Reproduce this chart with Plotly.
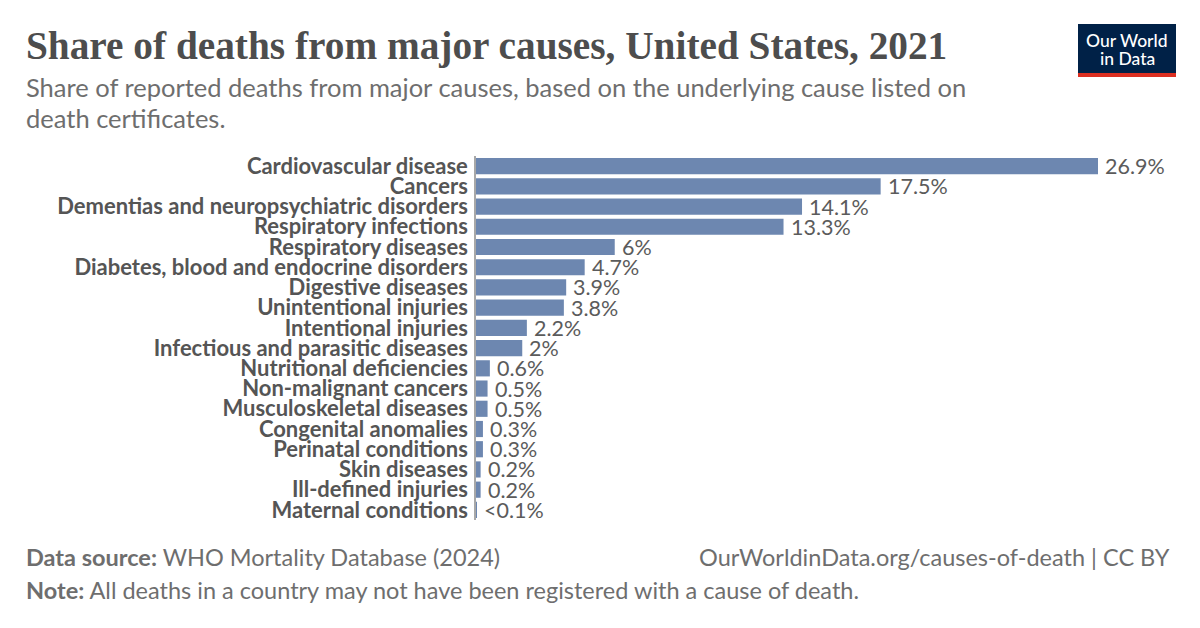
import plotly.graph_objects as go

categories = [
    "Cardiovascular disease", "Cancers", "Dementias and neuropsychiatric disorders",
    "Respiratory infections", "Respiratory diseases", "Diabetes, blood and endocrine disorders",
    "Digestive diseases", "Unintentional injuries", "Intentional injuries",
    "Infectious and parasitic diseases", "Nutritional deficiencies", "Non-malignant cancers",
    "Musculoskeletal diseases", "Congenital anomalies", "Perinatal conditions",
    "Skin diseases", "Ill-defined injuries", "Maternal conditions",
]
values = [26.9, 17.5, 14.1, 13.3, 6.0, 4.7, 3.9, 3.8, 2.2, 2.0, 0.6, 0.5, 0.5, 0.3, 0.3, 0.2, 0.2, 0.03]
value_labels = ["26.9%", "17.5%", "14.1%", "13.3%", "6%", "4.7%", "3.9%", "3.8%", "2.2%", "2%",
                "0.6%", "0.5%", "0.5%", "0.3%", "0.3%", "0.2%", "0.2%", "<0.1%"]

BAR = "#6d87b0"
GREY = "#6e6e6e"
LABEL = "#555555"
W, H = 1200, 628
L, R, T, B = 476, 24, 156, 108
px_per_unit = (1098 - 476) / 26.9
xmax = (W - L - R) / px_per_unit

fig = go.Figure()
fig.add_trace(go.Bar(
    x=values, y=categories, orientation="h",
    marker=dict(color=BAR, line=dict(width=0)),
    hoverinfo="skip",
))

for v, c, t in zip(values, categories, value_labels):
    fig.add_annotation(x=v, y=c, xref="x", yref="y", text=t, showarrow=False,
                       xanchor="left", yanchor="middle", xshift=5,
                       font=dict(family="Lato", size=21.5, color="#5b5b5b"))

fig.update_layout(
    width=W, height=H, margin=dict(l=L, r=R, t=T, b=B),
    paper_bgcolor="white", plot_bgcolor="white",
    bargap=0.2, showlegend=False,
    font=dict(family="Lato", color=GREY),
    xaxis=dict(range=[0, xmax], visible=False, fixedrange=True),
    yaxis=dict(
        range=[len(categories) - 0.5, -0.5], autorange=False,
        showgrid=False, zeroline=False,
        showline=True, linecolor="#a8a8a8", linewidth=1.5,
        ticks="", ticklabelstandoff=2,
        tickmode="array", tickvals=categories, ticktext=categories,
        tickfont=dict(family="Lato", size=22, color=LABEL, weight="bold"),
        fixedrange=True,
    ),
)

annotations = [
    dict(text="<b>Share of deaths from major causes, United States, 2021</b>",
         x=24, y=46, font=dict(family="Liberation Serif", size=39.3, color="#4d4d4d")),
    dict(text="Share of reported deaths from major causes, based on the underlying cause listed on",
         x=24, y=87, font=dict(family="Lato", size=25.5, color=GREY)),
    dict(text="death certificates.",
         x=24, y=118, font=dict(family="Lato", size=25.5, color=GREY)),
    dict(text="<b>Data source:</b> WHO Mortality Database (2024)",
         x=24, y=557, font=dict(family="Lato", size=23.5, color=GREY)),
    dict(text="<b>Note:</b> All deaths in a country may not have been registered with a cause of death.",
         x=24, y=590, font=dict(family="Lato", size=23.5, color=GREY)),
]


def px_x(v):
    return (v - L) / (W - L - R)


def px_y(v):
    return (H - v - B) / (H - T - B)


for a in annotations:
    fig.add_annotation(xref="paper", yref="paper", xanchor="left", yanchor="middle",
                       showarrow=False, text=a["text"], font=a["font"],
                       x=px_x(a["x"]), y=px_y(a["y"]))

fig.add_annotation(xref="paper", yref="paper", xanchor="right", yanchor="middle",
                   showarrow=False, text="OurWorldinData.org/causes-of-death | CC BY",
                   font=dict(family="Lato", size=23.5, color=GREY),
                   x=px_x(1172), y=px_y(557))

# Logo
fig.add_shape(type="rect", xref="paper", yref="paper",
              x0=px_x(1078), x1=px_x(1176), y0=px_y(73), y1=px_y(24),
              fillcolor="#002147", line=dict(width=0))
fig.add_shape(type="rect", xref="paper", yref="paper",
              x0=px_x(1078), x1=px_x(1176), y0=px_y(77), y1=px_y(73),
              fillcolor="#dc2f21", line=dict(width=0))
for txt, yy in [("Our World", 40), ("in Data", 58.5)]:
    fig.add_annotation(xref="paper", yref="paper", xanchor="center", yanchor="middle",
                       showarrow=False, text=txt,
                       font=dict(family="Lato", size=17.5, color="white", weight=500),
                       x=px_x(1127), y=px_y(yy))

fig.write_html("out.html")
